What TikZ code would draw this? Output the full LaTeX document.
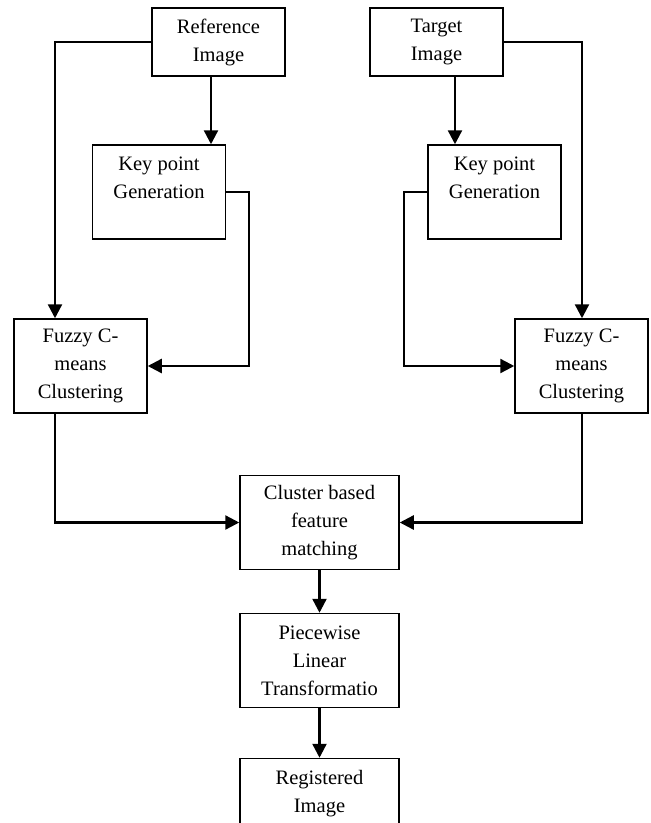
\documentclass[tikz,border=0pt]{standalone}
\usepackage{fontspec}
\setmainfont{Liberation Serif}
\usetikzlibrary{arrows.meta}

\begin{document}
\begin{tikzpicture}[x=1pt,y=-1pt,
			every node/.style = {shape=rectangle,
				draw, line width=1.5pt, align=center, inner sep=0pt,
				font=\fontsize{20.5}{28}\selectfont},
			small box/.style = {minimum width=133pt, minimum height=68pt},
			mid box/.style = {minimum width=133pt, minimum height=94pt},
			wide box/.style = {minimum width=159pt, minimum height=94pt},
			conn/.style = {line width=2.4pt, -{Triangle[length=14pt,width=14pt]}}]
			\useasboundingbox (0,0) rectangle (651,823);
			\clip (0,0) rectangle (651,823);
			% columns used by the connectors
			\coordinate (lcol) at (55,0);
			\coordinate (rcol) at (582,0);
			\coordinate (lbend) at (249,0);
			\coordinate (rbend) at (404,0);
			\coordinate (refx) at (211,0);
			\coordinate (tgtx) at (455,0);
			\node[small box] (ref) at (218.5,42) {Reference\\Image};
			\node[small box] (tgt) at (436.5,42) {Target\\Image};
			\node[mid box] (keyL) at (159,192) {Key point\\Generation\\~};
			\node[mid box] (keyR) at (494.5,192) {Key point\\Generation\\~};
			\node[mid box] (fuzL) at (80.5,366) {Fuzzy C-\\means\\Clustering};
			\node[mid box] (fuzR) at (581.5,366) {Fuzzy C-\\means\\Clustering};
			\node[wide box] (match) at (319.5,522.5) {Cluster based\\feature\\matching};
			\node[wide box] (pwl) at (319.5,660.5) {Piecewise\\Linear\\Transformatio};
			\node[wide box] (reg) at (319.5,805.5) {Registered\\Image\\~};
			% left branch
			\draw[conn] (ref.west) -| (fuzL.north -| lcol);
			\draw[conn] (ref.south -| refx) -- (keyL.north -| refx);
			\draw[conn] (keyL.east) -| (lbend |- fuzL.east) -- (fuzL.east);
			\draw[conn] (fuzL.south -| lcol) |- (match.west);
			% right branch
			\draw[conn] (tgt.east) -| (fuzR.north -| rcol);
			\draw[conn] (tgt.south -| tgtx) -- (keyR.north -| tgtx);
			\draw[conn] (keyR.west) -| (rbend |- fuzR.west) -- (fuzR.west);
			\draw[conn] (fuzR.south -| rcol) |- (match.east);
			% output
			\draw[conn] (match) -- (pwl);
			\draw[conn] (pwl) -- (reg);
		\end{tikzpicture}
\end{document}
